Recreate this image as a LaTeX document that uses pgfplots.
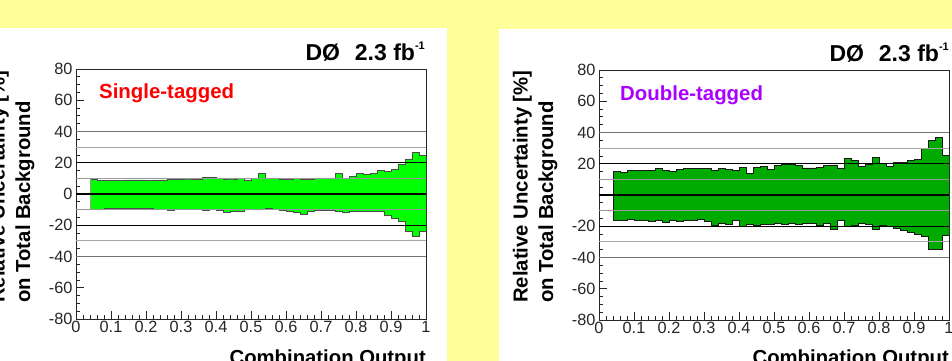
\documentclass[border=0pt]{standalone}
\usepackage{pgfplots}
\usepackage{pgfplotstable}
\pgfplotsset{compat=1.18}
\usepackage{fontspec}
\setmainfont{Liberation Sans}
\definecolor{bgyellow}{RGB}{255,255,153}
\definecolor{fillL}{RGB}{0,255,0}
\definecolor{fillR}{RGB}{0,170,0}
\definecolor{dtag}{RGB}{170,0,255}

\pgfplotstableread{
x up lo
0.04 9.4 -9.8
0.06 8.8 -9.6
0.08 8.5 -9.4
0.10 8.8 -9.4
0.12 8.8 -9.4
0.14 9.0 -9.2
0.16 9.0 -9.0
0.18 9.0 -9.4
0.20 8.8 -9.4
0.22 9.0 -9.6
0.24 9.0 -9.6
0.26 9.2 -10.2
0.28 9.2 -10.0
0.30 9.6 -9.6
0.32 9.6 -9.8
0.34 9.4 -10.0
0.36 10.4 -10.2
0.38 10.4 -10.0
0.40 9.8 -10.2
0.42 9.6 -12.0
0.44 9.6 -11.0
0.46 9.8 -11.2
0.48 9.0 -10.0
0.50 9.8 -9.6
0.52 13.2 -9.6
0.54 9.8 -9.2
0.56 9.8 -10.0
0.58 9.6 -10.6
0.60 9.4 -11.0
0.62 10.2 -11.7
0.64 9.6 -12.8
0.66 9.4 -11.0
0.68 10.0 -10.8
0.70 10.0 -10.4
0.72 10.0 -10.4
0.74 13.2 -11.0
0.76 10.2 -11.5
0.78 11.0 -11.0
0.80 13.2 -11.0
0.82 12.4 -11.0
0.84 13.0 -11.3
0.86 15.0 -11.0
0.88 14.5 -13.4
0.90 15.8 -15.8
0.92 19.2 -17.3
0.94 22.4 -23.7
0.96 26.4 -26.9
0.98 24.7 -23.7
1.00 24.7 -23.7
}\leftdata

\pgfplotstableread{
x up lo
0.04 15.1 -16.1
0.06 14.6 -16.3
0.08 15.9 -15.7
0.10 15.5 -16.1
0.12 15.5 -16.1
0.14 15.9 -16.6
0.16 17.0 -16.3
0.18 15.9 -17.4
0.20 15.0 -16.1
0.22 16.6 -16.6
0.24 17.0 -16.1
0.26 17.0 -16.1
0.28 17.2 -15.3
0.30 17.2 -16.6
0.32 15.7 -19.6
0.34 17.0 -18.3
0.36 16.6 -18.7
0.38 15.7 -16.1
0.40 17.4 -20.4
0.42 14.0 -18.9
0.44 17.4 -19.6
0.46 18.3 -18.7
0.48 16.2 -18.5
0.50 18.9 -18.1
0.52 19.8 -18.5
0.54 19.8 -18.1
0.56 18.9 -18.8
0.58 17.3 -18.0
0.60 17.3 -18.0
0.62 17.9 -19.5
0.64 18.9 -18.3
0.66 19.2 -22.0
0.68 17.3 -16.2
0.70 23.4 -20.0
0.72 22.3 -19.6
0.74 18.5 -18.1
0.76 19.8 -18.6
0.78 24.2 -22.0
0.80 20.0 -19.2
0.82 18.3 -19.8
0.84 21.0 -21.5
0.86 20.6 -22.6
0.88 21.9 -24.0
0.90 22.7 -25.5
0.92 29.7 -26.5
0.94 35.0 -34.5
0.96 37.0 -34.5
0.98 25.5 -26.0
1.00 25.5 -26.0
}\rightdata

\pgfplotsset{rootstyle/.style={
  scale only axis, width=350pt, height=250pt, anchor=south west,
  xmin=0, xmax=1, ymin=-80, ymax=80,
  xtick={0,0.1,0.2,0.3,0.4,0.5,0.6,0.7,0.8,0.9,1},
  xticklabels={0,0.1,0.2,0.3,0.4,0.5,0.6,0.7,0.8,0.9,1},
  ytick={-80,-60,-40,-20,0,20,40,60,80},
  minor x tick num=4, minor y tick num=3,
  tick pos=left, tick align=inside,
  major tick length=8pt, minor tick length=4pt,
  ticklabel style={font=\fontsize{16.3}{19}\selectfont, text=black!85},
  xticklabel style={yshift=1pt},
  axis line style={line width=0.9pt, black!85},
  every tick/.style={black!85, line width=0.8pt},
}}

\newcommand{\gridlines}{%
  \draw[black!55, line width=1.2pt] (axis cs:0,40) -- (axis cs:1,40);
  \draw[black!55, line width=1.2pt] (axis cs:0,-40) -- (axis cs:1,-40);
  \draw[black!35, line width=0.9pt] (axis cs:0,30) -- (axis cs:1,30);
  \draw[black!35, line width=0.9pt] (axis cs:0,-30) -- (axis cs:1,-30);
  \draw[black!40, line width=0.9pt] (axis cs:0,10) -- (axis cs:1,10);
  \draw[black!40, line width=0.9pt] (axis cs:0,-10) -- (axis cs:1,-10);
  \draw[black, line width=0.9pt] (axis cs:0,20) -- (axis cs:1,20);
  \draw[black, line width=0.9pt] (axis cs:0,-20) -- (axis cs:1,-20);
  \draw[black, line width=1.3pt] (axis cs:0,0) -- (axis cs:1,0);
}

\begin{document}
\begin{tikzpicture}
\useasboundingbox (0pt,0pt) rectangle (952pt,361pt);
\clip (0pt,0pt) rectangle (952pt,361pt);
\fill[bgyellow] (0pt,0pt) rectangle (952pt,361pt);
\fill[white] (0pt,0pt) rectangle (447pt,333pt);
\fill[white] (499pt,0pt) rectangle (952pt,332pt);

% ---- left panel
\begin{axis}[rootstyle, at={(76pt,42pt)},
  yticklabels={-80,-60,-40,-20,0,20,40,60,80}]
\addplot[const plot, fill=fillL, draw=none] table[x=x,y=up]{\leftdata} \closedcycle;
\addplot[const plot, fill=fillL, draw=none] table[x=x,y=lo]{\leftdata} \closedcycle;
\addplot[const plot, draw=black!70, line width=0.8pt] table[x=x,y=up]{\leftdata};
\addplot[const plot, draw=black!70, line width=0.8pt] table[x=x,y=lo]{\leftdata};
\addplot[draw=black!40, line width=0.6pt] coordinates {(0.04,-9.8) (0.04,9.4)};
\gridlines
\end{axis}

% ---- right panel
\begin{axis}[rootstyle, at={(599pt,41pt)},
  yticklabels={-80,-60,-40,-20,{},20,40,60,80}]
\addplot[const plot, fill=fillR, draw=none] table[x=x,y=up]{\rightdata} \closedcycle;
\addplot[const plot, fill=fillR, draw=none] table[x=x,y=lo]{\rightdata} \closedcycle;
\addplot[const plot, draw=black!90, line width=0.8pt] table[x=x,y=up]{\rightdata};
\addplot[const plot, draw=black!90, line width=0.8pt] table[x=x,y=lo]{\rightdata};
\addplot[draw=black!90, line width=0.8pt] coordinates {(0.04,-16.1) (0.04,15.1)};
\gridlines
\end{axis}

% ---- texts
\node[anchor=base east, inner sep=0pt, font=\bfseries\fontsize{23}{25}\selectfont] at (425pt,300pt)
  {DØ\hspace{0.65em}2.3 fb\raisebox{0.5em}{\fontsize{11}{11}\selectfont -1}};
\node[anchor=base east, inner sep=0pt, font=\bfseries\fontsize{23}{25}\selectfont] at (949pt,299pt)
  {DØ\hspace{0.65em}2.3 fb\raisebox{0.5em}{\fontsize{11}{11}\selectfont -1}};

\node[anchor=base west, inner sep=0pt, text=red, font=\bfseries\fontsize{20.4}{23}\selectfont] at (99pt,262pt) {Single-tagged};
\node[anchor=base west, inner sep=0pt, text=dtag, font=\bfseries\fontsize{20.4}{23}\selectfont] at (620pt,260pt) {Double-tagged};

\node[anchor=base west, rotate=90, inner sep=0pt, font=\bfseries\fontsize{20.3}{23}\selectfont] at (4.7pt,58pt) {Relative Uncertainty [\%]};
\node[anchor=base west, rotate=90, inner sep=0pt, font=\bfseries\fontsize{20.3}{23}\selectfont] at (30pt,58pt) {on Total Background};
\node[anchor=base west, rotate=90, inner sep=0pt, font=\bfseries\fontsize{20.3}{23}\selectfont] at (527.7pt,58pt) {Relative Uncertainty [\%]};
\node[anchor=base west, rotate=90, inner sep=0pt, font=\bfseries\fontsize{20.3}{23}\selectfont] at (553pt,58pt) {on Total Background};

\node[anchor=base east, inner sep=0pt, font=\bfseries\fontsize{20.3}{23}\selectfont] at (426pt,-3pt) {Combination Output};
\node[anchor=base east, inner sep=0pt, font=\bfseries\fontsize{20.3}{23}\selectfont] at (949pt,-3pt) {Combination Output};
\end{tikzpicture}
\end{document}
